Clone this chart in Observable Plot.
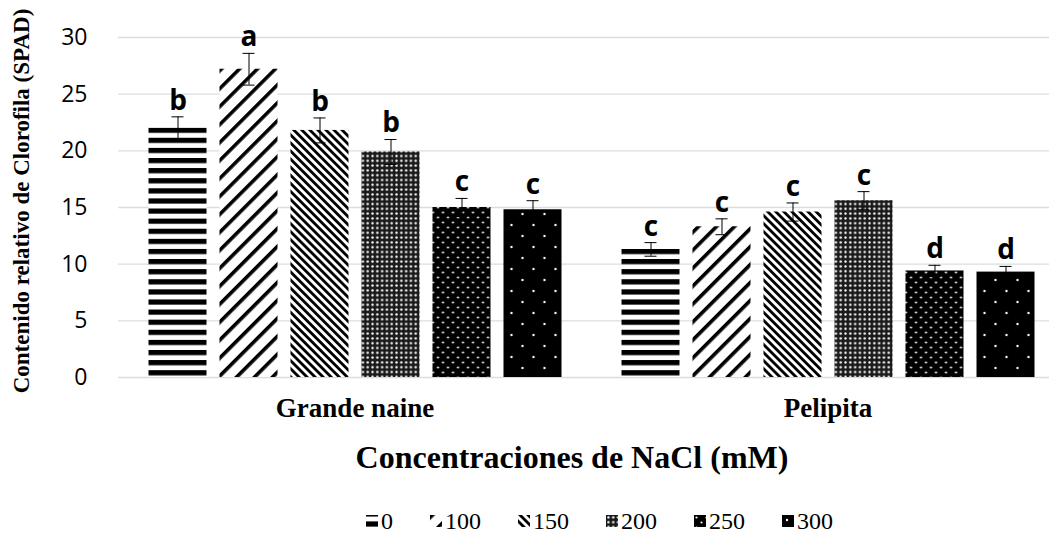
<!DOCTYPE html>
<html>
<head>
<meta charset="utf-8">
<script src="https://cdn.jsdelivr.net/npm/d3@7"></script>
<script src="https://cdn.jsdelivr.net/npm/@observablehq/plot@0.6"></script>
<style>
  html, body { margin: 0; padding: 0; background: #fff; overflow: hidden; }
  #legend { display: flex; height: 43px; box-sizing: border-box; padding-left: 366px; padding-top: 19px; gap: 37px;
    font-family: "Liberation Serif", "Times New Roman", serif; font-size: 24px; line-height: 24px; color: #000; align-items: flex-start; }
  #legend .item { display: flex; align-items: center; gap: 3px; height: 24px; }
  #legend svg { display: block; }
</style>
</head>
<body>
<div id="chart"></div>
<div id="legend"></div>
<script>
// ---- data ----
const cultivars = ["Grande naine", "Pelipita"];
const concentrations = ["0", "100", "150", "200", "250", "300"];
const grandeNaineMeans = [22.0, 27.2, 21.8, 19.9, 15.0, 14.8];
const grandeNaineErrors = [1.0, 1.4, 1.1, 1.1, 0.8, 0.8];
const grandeNaineLetters = ["b", "a", "b", "b", "c", "c"];
const pelipitaMeans = [11.3, 13.3, 14.6, 15.6, 9.4, 9.3];
const pelipitaErrors = [0.6, 0.7, 0.8, 0.8, 0.5, 0.5];
const pelipitaLetters = ["c", "c", "c", "c", "d", "d"];
const yTicks = [0, 5, 10, 15, 20, 25, 30];
const yLabel = "Contenido relativo de Clorofila (SPAD)";
const xTitle = "Concentraciones de NaCl (mM)";
const patternIds = ["pat0", "pat100", "pat150", "pat200", "pat250", "pat300"];

const table = [];
[[grandeNaineMeans, grandeNaineErrors, grandeNaineLetters], [pelipitaMeans, pelipitaErrors, pelipitaLetters]]
  .forEach(([m, e, l], ci) => concentrations.forEach((c, i) => table.push({
    cultivar: cultivars[ci], conc: c, mean: m[i], lo: m[i] - e[i], hi: m[i] + e[i], letter: l[i]
  })));

const serif = "Liberation Serif, Times New Roman, serif";
const sans = "Open Sans, Noto Sans, sans-serif";

const chart = Plot.plot({
  width: 1049,
  height: 490,
  marginLeft: 117.5,
  marginRight: 0,
  marginTop: 37,
  marginBottom: 113,
  fx: {domain: cultivars, range: [117.5, 1064], padding: 0, label: null},
  x: {domain: concentrations, paddingInner: 0.186, paddingOuter: 0.41, axis: null},
  y: {domain: [0, 30], label: null},
  color: {domain: concentrations, range: patternIds.map(id => `url(#${id})`)},
  marks: [
    Plot.gridY(yTicks, {stroke: "#d9dde3", strokeOpacity: 1, strokeWidth: 1.3}),
    Plot.barY(table, {fx: "cultivar", x: "conc", y: "mean", fill: "conc"}),
    Plot.ruleX(table, {fx: "cultivar", x: "conc", y1: "lo", y2: "hi", stroke: "#000", strokeWidth: 1}),
    Plot.tickY(table, {fx: "cultivar", x: "conc", y: "hi", stroke: "#000", strokeWidth: 1, insetLeft: 23, insetRight: 23}),
    Plot.tickY(table, {fx: "cultivar", x: "conc", y: "lo", stroke: "#000", strokeWidth: 1, insetLeft: 23, insetRight: 23}),
    Plot.text(table, {fx: "cultivar", x: "conc", y: "hi", text: "letter", dy: -16,
      fontSize: 28, fontWeight: "bold", fontFamily: sans, fill: "#000"}),
    Plot.axisY(yTicks, {tickSize: 0, tickPadding: 31, fontSize: 23, fontFamily: sans, label: null, color: "#000"}),
    Plot.axisFx({anchor: "bottom", tickSize: 0, tickPadding: 20, fontSize: 27, fontWeight: "bold",
      fontFamily: serif, label: null, color: "#000"})
  ]
});

const svg = d3.select(chart);
const defs = svg.insert("defs", ":first-child");

function stripes(id, w, black, rotate) {
  const p = defs.append("pattern").attr("id", id).attr("patternUnits", "userSpaceOnUse")
    .attr("width", w).attr("height", w);
  if (rotate !== null) p.attr("patternTransform", `rotate(${rotate})`);
  p.append("rect").attr("width", w).attr("height", w).attr("fill", "#fff");
  p.append("rect").attr("width", black).attr("height", w).attr("fill", "#000");
}
// 0: horizontal stripes
{
  const p = defs.append("pattern").attr("id", "pat0").attr("patternUnits", "userSpaceOnUse")
    .attr("y", 6.4).attr("width", 10).attr("height", 10.105);
  p.append("rect").attr("width", 10).attr("height", 10.105).attr("fill", "#fff");
  p.append("rect").attr("y", 0).attr("width", 10).attr("height", 5.2).attr("fill", "#000");
}
stripes("pat100", 12.7, 3.6, 45);
stripes("pat150", 5.7, 2.8, -45);
function dots(id, w, h, pts, r, bg) {
  const p = defs.append("pattern").attr("id", id).attr("patternUnits", "userSpaceOnUse")
    .attr("width", w).attr("height", h);
  p.append("rect").attr("width", w).attr("height", h).attr("fill", bg);
  pts.forEach(([cx, cy]) => p.append("circle").attr("cx", cx).attr("cy", cy).attr("r", r).attr("fill", "#fff"));
}
dots("pat200", 4.8, 4.8, [[2.4, 2.4]], 1.2, "#1a1a1a");
dots("pat250", 10, 10, [[2.5, 2.5], [7.5, 7.5]], 1.1, "#000");
dots("pat300", 22, 22, [[5, 5], [16, 16]], 1.2, "#000");

// titles
svg.append("text")
  .attr("transform", "translate(21,201) rotate(-90)")
  .attr("text-anchor", "middle").attr("dominant-baseline", "central")
  .attr("font-family", serif).attr("font-weight", "bold").attr("font-size", 23)
  .attr("fill", "#000").text(yLabel);
svg.append("text")
  .attr("x", 572).attr("y", 468)
  .attr("text-anchor", "middle")
  .attr("font-family", serif).attr("font-weight", "bold").attr("font-size", 32)
  .attr("fill", "#000").text(xTitle);

document.getElementById("chart").appendChild(chart);

// legend
const legend = d3.select("#legend");
concentrations.forEach((c, i) => {
  const item = legend.append("div").attr("class", "item");
  const s = item.append("svg").attr("width", 12).attr("height", 12);
  s.append("rect").attr("width", 12).attr("height", 12).attr("fill", `url(#${patternIds[i]})`);
  item.append("span").text(c);
});
</script>
</body>
</html>
